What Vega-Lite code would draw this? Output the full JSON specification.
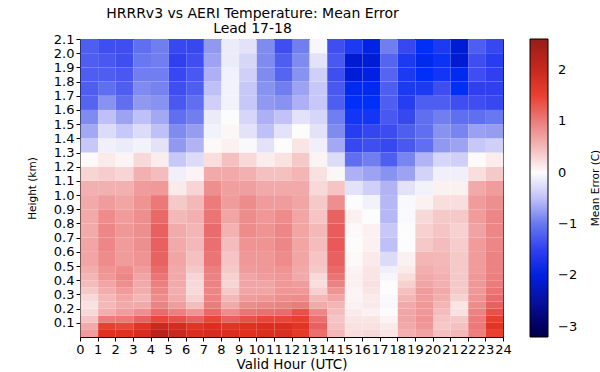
{
  "$schema": "https://vega.github.io/schema/vega-lite/v6.json",
  "width": 423,
  "height": 298,
  "autosize": {"type": "none"},
  "padding": {"left": 80, "top": 39, "right": 97, "bottom": 35},
  "background": "white",
  "title": {
    "text": ["HRRRv3 vs AERI Temperature: Mean Error", "Lead 17-18"],
    "font": "DejaVu Sans",
    "fontSize": 14,
    "fontWeight": "normal",
    "color": "#000000",
    "anchor": "middle",
    "dx": -39,
    "offset": -3,
    "lineHeight": 15
  },
  "datasets": {
    "levels": [
      {"z": 0, "top": 0.05}, {"z": 0.05, "top": 0.1}, {"z": 0.1, "top": 0.15}, {"z": 0.15, "top": 0.2},
      {"z": 0.2, "top": 0.25}, {"z": 0.25, "top": 0.3}, {"z": 0.3, "top": 0.35}, {"z": 0.35, "top": 0.4},
      {"z": 0.4, "top": 0.45}, {"z": 0.45, "top": 0.5}, {"z": 0.5, "top": 0.6}, {"z": 0.6, "top": 0.7},
      {"z": 0.7, "top": 0.8}, {"z": 0.8, "top": 0.9}, {"z": 0.9, "top": 1}, {"z": 1, "top": 1.1},
      {"z": 1.1, "top": 1.2}, {"z": 1.2, "top": 1.3}, {"z": 1.3, "top": 1.4}, {"z": 1.4, "top": 1.5},
      {"z": 1.5, "top": 1.6}, {"z": 1.6, "top": 1.7}, {"z": 1.7, "top": 1.8}, {"z": 1.8, "top": 1.9},
      {"z": 1.9, "top": 2}, {"z": 2, "top": 2.1}
    ]
  },
  "data": {
    "values": [
      {"hour":0,"z":0,"me":0.75},{"hour":0,"z":0.05,"me":0.63},{"hour":0,"z":0.1,"me":0.4},{"hour":0,"z":0.15,"me":0.23},{"hour":0,"z":0.2,"me":0.18},{"hour":0,"z":0.25,"me":0.23},{"hour":0,"z":0.3,"me":0.36},{"hour":0,"z":0.35,"me":0.47},{"hour":0,"z":0.4,"me":0.53},{"hour":0,"z":0.45,"me":0.6},{"hour":0,"z":0.5,"me":0.67},{"hour":0,"z":0.6,"me":0.67},{"hour":0,"z":0.7,"me":0.62},{"hour":0,"z":0.8,"me":0.63},{"hour":0,"z":0.9,"me":0.63},{"hour":0,"z":1,"me":0.57},{"hour":0,"z":1.1,"me":0.26},{"hour":0,"z":1.2,"me":0.02},{"hour":0,"z":1.3,"me":-0.43},{"hour":0,"z":1.4,"me":-0.65},{"hour":0,"z":1.5,"me":-0.85},{"hour":0,"z":1.6,"me":-1.15},{"hour":0,"z":1.7,"me":-1.2},{"hour":0,"z":1.8,"me":-1.2},{"hour":0,"z":1.9,"me":-1.2},{"hour":0,"z":2,"me":-1.2},
      {"hour":1,"z":0,"me":1.75},{"hour":1,"z":0.05,"me":1.5},{"hour":1,"z":0.1,"me":1.0},{"hour":1,"z":0.15,"me":0.6},{"hour":1,"z":0.2,"me":0.5},{"hour":1,"z":0.25,"me":0.5},{"hour":1,"z":0.3,"me":0.6},{"hour":1,"z":0.35,"me":0.67},{"hour":1,"z":0.4,"me":0.78},{"hour":1,"z":0.45,"me":0.82},{"hour":1,"z":0.5,"me":0.88},{"hour":1,"z":0.6,"me":0.92},{"hour":1,"z":0.7,"me":0.92},{"hour":1,"z":0.8,"me":0.88},{"hour":1,"z":0.9,"me":0.75},{"hour":1,"z":1,"me":0.57},{"hour":1,"z":1.1,"me":0.33},{"hour":1,"z":1.2,"me":0.12},{"hour":1,"z":1.3,"me":-0.1},{"hour":1,"z":1.4,"me":-0.25},{"hour":1,"z":1.5,"me":-0.5},{"hour":1,"z":1.6,"me":-0.8},{"hour":1,"z":1.7,"me":-1.07},{"hour":1,"z":1.8,"me":-1.2},{"hour":1,"z":1.9,"me":-1.25},{"hour":1,"z":2,"me":-1.35},
      {"hour":2,"z":0,"me":1.75},{"hour":2,"z":0.05,"me":1.45},{"hour":2,"z":0.1,"me":1.03},{"hour":2,"z":0.15,"me":0.75},{"hour":2,"z":0.2,"me":0.63},{"hour":2,"z":0.25,"me":0.67},{"hour":2,"z":0.3,"me":0.75},{"hour":2,"z":0.35,"me":0.85},{"hour":2,"z":0.4,"me":0.92},{"hour":2,"z":0.45,"me":0.88},{"hour":2,"z":0.5,"me":0.75},{"hour":2,"z":0.6,"me":0.75},{"hour":2,"z":0.7,"me":0.78},{"hour":2,"z":0.8,"me":0.75},{"hour":2,"z":0.9,"me":0.67},{"hour":2,"z":1,"me":0.57},{"hour":2,"z":1.1,"me":0.26},{"hour":2,"z":1.2,"me":0.05},{"hour":2,"z":1.3,"me":-0.13},{"hour":2,"z":1.4,"me":-0.43},{"hour":2,"z":1.5,"me":-0.68},{"hour":2,"z":1.6,"me":-1.07},{"hour":2,"z":1.7,"me":-1.2},{"hour":2,"z":1.8,"me":-1.25},{"hour":2,"z":1.9,"me":-1.35},{"hour":2,"z":2,"me":-1.35},
      {"hour":3,"z":0,"me":1.85},{"hour":3,"z":0.05,"me":1.68},{"hour":3,"z":0.1,"me":1.2},{"hour":3,"z":0.15,"me":0.85},{"hour":3,"z":0.2,"me":0.63},{"hour":3,"z":0.25,"me":0.53},{"hour":3,"z":0.3,"me":0.6},{"hour":3,"z":0.35,"me":0.63},{"hour":3,"z":0.4,"me":0.67},{"hour":3,"z":0.45,"me":0.75},{"hour":3,"z":0.5,"me":0.82},{"hour":3,"z":0.6,"me":0.85},{"hour":3,"z":0.7,"me":0.85},{"hour":3,"z":0.8,"me":0.85},{"hour":3,"z":0.9,"me":0.82},{"hour":3,"z":1,"me":0.75},{"hour":3,"z":1.1,"me":0.57},{"hour":3,"z":1.2,"me":0.23},{"hour":3,"z":1.3,"me":-0.08},{"hour":3,"z":1.4,"me":-0.25},{"hour":3,"z":1.5,"me":-0.5},{"hour":3,"z":1.6,"me":-0.75},{"hour":3,"z":1.7,"me":-0.85},{"hour":3,"z":1.8,"me":-0.95},{"hour":3,"z":1.9,"me":-1.0},{"hour":3,"z":2,"me":-1.07},
      {"hour":4,"z":0,"me":2.2},{"hour":4,"z":0.05,"me":2.0},{"hour":4,"z":0.1,"me":1.45},{"hour":4,"z":0.15,"me":1.13},{"hour":4,"z":0.2,"me":0.95},{"hour":4,"z":0.25,"me":0.88},{"hour":4,"z":0.3,"me":0.92},{"hour":4,"z":0.35,"me":0.98},{"hour":4,"z":0.4,"me":1.06},{"hour":4,"z":0.45,"me":1.13},{"hour":4,"z":0.5,"me":1.2},{"hour":4,"z":0.6,"me":1.22},{"hour":4,"z":0.7,"me":1.22},{"hour":4,"z":0.8,"me":1.16},{"hour":4,"z":0.9,"me":1.03},{"hour":4,"z":1,"me":0.77},{"hour":4,"z":1.1,"me":0.47},{"hour":4,"z":1.2,"me":0.1},{"hour":4,"z":1.3,"me":-0.2},{"hour":4,"z":1.4,"me":-0.5},{"hour":4,"z":1.5,"me":-0.65},{"hour":4,"z":1.6,"me":-0.8},{"hour":4,"z":1.7,"me":-0.92},{"hour":4,"z":1.8,"me":-0.95},{"hour":4,"z":1.9,"me":-0.95},{"hour":4,"z":2,"me":-0.95},
      {"hour":5,"z":0,"me":2.0},{"hour":5,"z":0.05,"me":1.88},{"hour":5,"z":0.1,"me":1.35},{"hour":5,"z":0.15,"me":0.98},{"hour":5,"z":0.2,"me":0.75},{"hour":5,"z":0.25,"me":0.63},{"hour":5,"z":0.3,"me":0.6},{"hour":5,"z":0.35,"me":0.63},{"hour":5,"z":0.4,"me":0.63},{"hour":5,"z":0.45,"me":0.63},{"hour":5,"z":0.5,"me":0.67},{"hour":5,"z":0.6,"me":0.63},{"hour":5,"z":0.7,"me":0.62},{"hour":5,"z":0.8,"me":0.5},{"hour":5,"z":0.9,"me":0.36},{"hour":5,"z":1,"me":0.12},{"hour":5,"z":1.1,"me":-0.1},{"hour":5,"z":1.2,"me":-0.43},{"hour":5,"z":1.3,"me":-0.75},{"hour":5,"z":1.4,"me":-0.85},{"hour":5,"z":1.5,"me":-1.07},{"hour":5,"z":1.6,"me":-1.25},{"hour":5,"z":1.7,"me":-1.35},{"hour":5,"z":1.8,"me":-1.42},{"hour":5,"z":1.9,"me":-1.5},{"hour":5,"z":2,"me":-1.42},
      {"hour":6,"z":0,"me":1.82},{"hour":6,"z":0.05,"me":1.68},{"hour":6,"z":0.1,"me":1.22},{"hour":6,"z":0.15,"me":0.82},{"hour":6,"z":0.2,"me":0.47},{"hour":6,"z":0.25,"me":0.3},{"hour":6,"z":0.3,"me":0.23},{"hour":6,"z":0.35,"me":0.23},{"hour":6,"z":0.4,"me":0.26},{"hour":6,"z":0.45,"me":0.36},{"hour":6,"z":0.5,"me":0.43},{"hour":6,"z":0.6,"me":0.5},{"hour":6,"z":0.7,"me":0.53},{"hour":6,"z":0.8,"me":0.57},{"hour":6,"z":0.9,"me":0.5},{"hour":6,"z":1,"me":0.26},{"hour":6,"z":1.1,"me":0.05},{"hour":6,"z":1.2,"me":-0.25},{"hour":6,"z":1.3,"me":-0.58},{"hour":6,"z":1.4,"me":-0.72},{"hour":6,"z":1.5,"me":-0.95},{"hour":6,"z":1.6,"me":-1.07},{"hour":6,"z":1.7,"me":-1.2},{"hour":6,"z":1.8,"me":-1.25},{"hour":6,"z":1.9,"me":-1.35},{"hour":6,"z":2,"me":-1.42},
      {"hour":7,"z":0,"me":1.88},{"hour":7,"z":0.05,"me":1.82},{"hour":7,"z":0.1,"me":1.45},{"hour":7,"z":0.15,"me":1.16},{"hour":7,"z":0.2,"me":1.0},{"hour":7,"z":0.25,"me":0.95},{"hour":7,"z":0.3,"me":0.92},{"hour":7,"z":0.35,"me":0.95},{"hour":7,"z":0.4,"me":0.95},{"hour":7,"z":0.45,"me":0.98},{"hour":7,"z":0.5,"me":1.06},{"hour":7,"z":0.6,"me":1.1},{"hour":7,"z":0.7,"me":1.13},{"hour":7,"z":0.8,"me":1.06},{"hour":7,"z":0.9,"me":1.0},{"hour":7,"z":1,"me":0.85},{"hour":7,"z":1.1,"me":0.63},{"hour":7,"z":1.2,"me":0.2},{"hour":7,"z":1.3,"me":0.02},{"hour":7,"z":1.4,"me":-0.08},{"hour":7,"z":1.5,"me":-0.13},{"hour":7,"z":1.6,"me":-0.37},{"hour":7,"z":1.7,"me":-0.5},{"hour":7,"z":1.8,"me":-0.6},{"hour":7,"z":1.9,"me":-0.68},{"hour":7,"z":2,"me":-0.75},
      {"hour":8,"z":0,"me":1.82},{"hour":8,"z":0.05,"me":1.68},{"hour":8,"z":0.1,"me":1.22},{"hour":8,"z":0.15,"me":0.88},{"hour":8,"z":0.2,"me":0.63},{"hour":8,"z":0.25,"me":0.5},{"hour":8,"z":0.3,"me":0.36},{"hour":8,"z":0.35,"me":0.26},{"hour":8,"z":0.4,"me":0.3},{"hour":8,"z":0.45,"me":0.36},{"hour":8,"z":0.5,"me":0.4},{"hour":8,"z":0.6,"me":0.47},{"hour":8,"z":0.7,"me":0.56},{"hour":8,"z":0.8,"me":0.67},{"hour":8,"z":0.9,"me":0.75},{"hour":8,"z":1,"me":0.72},{"hour":8,"z":1.1,"me":0.63},{"hour":8,"z":1.2,"me":0.43},{"hour":8,"z":1.3,"me":0.07},{"hour":8,"z":1.4,"me":0.03},{"hour":8,"z":1.5,"me":0.0},{"hour":8,"z":1.6,"me":-0.08},{"hour":8,"z":1.7,"me":-0.08},{"hour":8,"z":1.8,"me":-0.09},{"hour":8,"z":1.9,"me":-0.13},{"hour":8,"z":2,"me":-0.13},
      {"hour":9,"z":0,"me":1.75},{"hour":9,"z":0.05,"me":1.75},{"hour":9,"z":0.1,"me":1.35},{"hour":9,"z":0.15,"me":1.06},{"hour":9,"z":0.2,"me":0.88},{"hour":9,"z":0.25,"me":0.75},{"hour":9,"z":0.3,"me":0.67},{"hour":9,"z":0.35,"me":0.67},{"hour":9,"z":0.4,"me":0.67},{"hour":9,"z":0.45,"me":0.75},{"hour":9,"z":0.5,"me":0.78},{"hour":9,"z":0.6,"me":0.82},{"hour":9,"z":0.7,"me":0.88},{"hour":9,"z":0.8,"me":0.88},{"hour":9,"z":0.9,"me":0.88},{"hour":9,"z":1,"me":0.72},{"hour":9,"z":1.1,"me":0.57},{"hour":9,"z":1.2,"me":0.23},{"hour":9,"z":1.3,"me":-0.03},{"hour":9,"z":1.4,"me":-0.2},{"hour":9,"z":1.5,"me":-0.3},{"hour":9,"z":1.6,"me":-0.43},{"hour":9,"z":1.7,"me":-0.43},{"hour":9,"z":1.8,"me":-0.37},{"hour":9,"z":1.9,"me":-0.3},{"hour":9,"z":2,"me":-0.2},
      {"hour":10,"z":0,"me":1.82},{"hour":10,"z":0.05,"me":1.82},{"hour":10,"z":0.1,"me":1.45},{"hour":10,"z":0.15,"me":1.1},{"hour":10,"z":0.2,"me":0.92},{"hour":10,"z":0.25,"me":0.78},{"hour":10,"z":0.3,"me":0.67},{"hour":10,"z":0.35,"me":0.67},{"hour":10,"z":0.4,"me":0.75},{"hour":10,"z":0.45,"me":0.78},{"hour":10,"z":0.5,"me":0.78},{"hour":10,"z":0.6,"me":0.82},{"hour":10,"z":0.7,"me":0.82},{"hour":10,"z":0.8,"me":0.78},{"hour":10,"z":0.9,"me":0.75},{"hour":10,"z":1,"me":0.63},{"hour":10,"z":1.1,"me":0.43},{"hour":10,"z":1.2,"me":0.1},{"hour":10,"z":1.3,"me":-0.2},{"hour":10,"z":1.4,"me":-0.5},{"hour":10,"z":1.5,"me":-0.6},{"hour":10,"z":1.6,"me":-0.75},{"hour":10,"z":1.7,"me":-0.8},{"hour":10,"z":1.8,"me":-0.85},{"hour":10,"z":1.9,"me":-0.85},{"hour":10,"z":2,"me":-0.85},
      {"hour":11,"z":0,"me":1.82},{"hour":11,"z":0.05,"me":1.82},{"hour":11,"z":0.1,"me":1.45},{"hour":11,"z":0.15,"me":1.13},{"hour":11,"z":0.2,"me":0.95},{"hour":11,"z":0.25,"me":0.85},{"hour":11,"z":0.3,"me":0.78},{"hour":11,"z":0.35,"me":0.78},{"hour":11,"z":0.4,"me":0.78},{"hour":11,"z":0.45,"me":0.82},{"hour":11,"z":0.5,"me":0.88},{"hour":11,"z":0.6,"me":0.92},{"hour":11,"z":0.7,"me":0.92},{"hour":11,"z":0.8,"me":0.88},{"hour":11,"z":0.9,"me":0.75},{"hour":11,"z":1,"me":0.63},{"hour":11,"z":1.1,"me":0.43},{"hour":11,"z":1.2,"me":0.17},{"hour":11,"z":1.3,"me":0.0},{"hour":11,"z":1.4,"me":-0.2},{"hour":11,"z":1.5,"me":-0.48},{"hour":11,"z":1.6,"me":-0.8},{"hour":11,"z":1.7,"me":-0.95},{"hour":11,"z":1.8,"me":-1.15},{"hour":11,"z":1.9,"me":-1.2},{"hour":11,"z":2,"me":-1.35},
      {"hour":12,"z":0,"me":1.6},{"hour":12,"z":0.05,"me":1.68},{"hour":12,"z":0.1,"me":1.5},{"hour":12,"z":0.15,"me":1.35},{"hour":12,"z":0.2,"me":1.0},{"hour":12,"z":0.25,"me":0.88},{"hour":12,"z":0.3,"me":0.78},{"hour":12,"z":0.35,"me":0.75},{"hour":12,"z":0.4,"me":0.63},{"hour":12,"z":0.45,"me":0.63},{"hour":12,"z":0.5,"me":0.67},{"hour":12,"z":0.6,"me":0.67},{"hour":12,"z":0.7,"me":0.67},{"hour":12,"z":0.8,"me":0.67},{"hour":12,"z":0.9,"me":0.67},{"hour":12,"z":1,"me":0.63},{"hour":12,"z":1.1,"me":0.53},{"hour":12,"z":1.2,"me":0.36},{"hour":12,"z":1.3,"me":0.15},{"hour":12,"z":1.4,"me":0.0},{"hour":12,"z":1.5,"me":-0.2},{"hour":12,"z":1.6,"me":-0.6},{"hour":12,"z":1.7,"me":-0.68},{"hour":12,"z":1.8,"me":-0.8},{"hour":12,"z":1.9,"me":-0.85},{"hour":12,"z":2,"me":-0.95},
      {"hour":13,"z":0,"me":1.1},{"hour":13,"z":0.05,"me":1.22},{"hour":13,"z":0.1,"me":1.1},{"hour":13,"z":0.15,"me":0.92},{"hour":13,"z":0.2,"me":0.63},{"hour":13,"z":0.25,"me":0.5},{"hour":13,"z":0.3,"me":0.3},{"hour":13,"z":0.35,"me":0.2},{"hour":13,"z":0.4,"me":0.23},{"hour":13,"z":0.45,"me":0.36},{"hour":13,"z":0.5,"me":0.4},{"hour":13,"z":0.6,"me":0.47},{"hour":13,"z":0.7,"me":0.5},{"hour":13,"z":0.8,"me":0.4},{"hour":13,"z":0.9,"me":0.36},{"hour":13,"z":1,"me":0.23},{"hour":13,"z":1.1,"me":0.18},{"hour":13,"z":1.2,"me":0.05},{"hour":13,"z":1.3,"me":-0.1},{"hour":13,"z":1.4,"me":-0.2},{"hour":13,"z":1.5,"me":-0.3},{"hour":13,"z":1.6,"me":-0.43},{"hour":13,"z":1.7,"me":-0.43},{"hour":13,"z":1.8,"me":-0.37},{"hour":13,"z":1.9,"me":-0.2},{"hour":13,"z":2,"me":-0.05},
      {"hour":14,"z":0,"me":0.5},{"hour":14,"z":0.05,"me":0.43},{"hour":14,"z":0.1,"me":0.4},{"hour":14,"z":0.15,"me":0.47},{"hour":14,"z":0.2,"me":0.53},{"hour":14,"z":0.25,"me":0.67},{"hour":14,"z":0.3,"me":0.82},{"hour":14,"z":0.35,"me":0.95},{"hour":14,"z":0.4,"me":1.06},{"hour":14,"z":0.45,"me":1.16},{"hour":14,"z":0.5,"me":1.22},{"hour":14,"z":0.6,"me":1.28},{"hour":14,"z":0.7,"me":1.25},{"hour":14,"z":0.8,"me":1.2},{"hour":14,"z":0.9,"me":0.85},{"hour":14,"z":1,"me":0.4},{"hour":14,"z":1.1,"me":0.03},{"hour":14,"z":1.2,"me":-0.25},{"hour":14,"z":1.3,"me":-0.65},{"hour":14,"z":1.4,"me":-0.85},{"hour":14,"z":1.5,"me":-0.95},{"hour":14,"z":1.6,"me":-1.2},{"hour":14,"z":1.7,"me":-1.25},{"hour":14,"z":1.8,"me":-1.35},{"hour":14,"z":1.9,"me":-1.25},{"hour":14,"z":2,"me":-1.35},
      {"hour":15,"z":0,"me":0.2},{"hour":15,"z":0.05,"me":0.18},{"hour":15,"z":0.1,"me":0.15},{"hour":15,"z":0.15,"me":0.12},{"hour":15,"z":0.2,"me":0.07},{"hour":15,"z":0.25,"me":0.05},{"hour":15,"z":0.3,"me":0.05},{"hour":15,"z":0.35,"me":0.07},{"hour":15,"z":0.4,"me":0.07},{"hour":15,"z":0.45,"me":0.05},{"hour":15,"z":0.5,"me":0.02},{"hour":15,"z":0.6,"me":0.0},{"hour":15,"z":0.7,"me":0.02},{"hour":15,"z":0.8,"me":0.07},{"hour":15,"z":0.9,"me":0.0},{"hour":15,"z":1,"me":-0.2},{"hour":15,"z":1.1,"me":-0.6},{"hour":15,"z":1.2,"me":-1.07},{"hour":15,"z":1.3,"me":-1.42},{"hour":15,"z":1.4,"me":-1.55},{"hour":15,"z":1.5,"me":-1.65},{"hour":15,"z":1.6,"me":-1.75},{"hour":15,"z":1.7,"me":-1.85},{"hour":15,"z":1.8,"me":-2.1},{"hour":15,"z":1.9,"me":-2.15},{"hour":15,"z":2,"me":-1.6},
      {"hour":16,"z":0,"me":0.23},{"hour":16,"z":0.05,"me":0.18},{"hour":16,"z":0.1,"me":0.15},{"hour":16,"z":0.15,"me":0.07},{"hour":16,"z":0.2,"me":0.12},{"hour":16,"z":0.25,"me":0.12},{"hour":16,"z":0.3,"me":0.15},{"hour":16,"z":0.35,"me":0.18},{"hour":16,"z":0.4,"me":0.15},{"hour":16,"z":0.45,"me":0.15},{"hour":16,"z":0.5,"me":0.12},{"hour":16,"z":0.6,"me":0.07},{"hour":16,"z":0.7,"me":0.07},{"hour":16,"z":0.8,"me":0.0},{"hour":16,"z":0.9,"me":-0.08},{"hour":16,"z":1,"me":-0.37},{"hour":16,"z":1.1,"me":-0.68},{"hour":16,"z":1.2,"me":-0.95},{"hour":16,"z":1.3,"me":-1.35},{"hour":16,"z":1.4,"me":-1.45},{"hour":16,"z":1.5,"me":-1.65},{"hour":16,"z":1.6,"me":-1.75},{"hour":16,"z":1.7,"me":-1.85},{"hour":16,"z":1.8,"me":-1.98},{"hour":16,"z":1.9,"me":-2.1},{"hour":16,"z":2,"me":-1.95},
      {"hour":17,"z":0,"me":0.15},{"hour":17,"z":0.05,"me":0.12},{"hour":17,"z":0.1,"me":0.05},{"hour":17,"z":0.15,"me":0.0},{"hour":17,"z":0.2,"me":-0.03},{"hour":17,"z":0.25,"me":-0.03},{"hour":17,"z":0.3,"me":0.0},{"hour":17,"z":0.35,"me":0.0},{"hour":17,"z":0.4,"me":-0.05},{"hour":17,"z":0.45,"me":-0.1},{"hour":17,"z":0.5,"me":-0.25},{"hour":17,"z":0.6,"me":-0.5},{"hour":17,"z":0.7,"me":-0.43},{"hour":17,"z":0.8,"me":-0.55},{"hour":17,"z":0.9,"me":-0.55},{"hour":17,"z":1,"me":-0.58},{"hour":17,"z":1.1,"me":-0.8},{"hour":17,"z":1.2,"me":-1.2},{"hour":17,"z":1.3,"me":-1.42},{"hour":17,"z":1.4,"me":-1.38},{"hour":17,"z":1.5,"me":-1.25},{"hour":17,"z":1.6,"me":-1.2},{"hour":17,"z":1.7,"me":-1.2},{"hour":17,"z":1.8,"me":-1.15},{"hour":17,"z":1.9,"me":-1.15},{"hour":17,"z":2,"me":-0.95},
      {"hour":18,"z":0,"me":0.57},{"hour":18,"z":0.05,"me":0.63},{"hour":18,"z":0.1,"me":0.67},{"hour":18,"z":0.15,"me":0.67},{"hour":18,"z":0.2,"me":0.63},{"hour":18,"z":0.25,"me":0.53},{"hour":18,"z":0.3,"me":0.43},{"hour":18,"z":0.35,"me":0.3},{"hour":18,"z":0.4,"me":0.2},{"hour":18,"z":0.45,"me":0.12},{"hour":18,"z":0.5,"me":0.07},{"hour":18,"z":0.6,"me":0.0},{"hour":18,"z":0.7,"me":0.0},{"hour":18,"z":0.8,"me":-0.03},{"hour":18,"z":0.9,"me":-0.03},{"hour":18,"z":1,"me":-0.2},{"hour":18,"z":1.1,"me":-0.68},{"hour":18,"z":1.2,"me":-0.9},{"hour":18,"z":1.3,"me":-1.25},{"hour":18,"z":1.4,"me":-1.2},{"hour":18,"z":1.5,"me":-1.42},{"hour":18,"z":1.6,"me":-1.55},{"hour":18,"z":1.7,"me":-1.6},{"hour":18,"z":1.8,"me":-1.6},{"hour":18,"z":1.9,"me":-1.6},{"hour":18,"z":2,"me":-1.42},
      {"hour":19,"z":0,"me":0.7},{"hour":19,"z":0.05,"me":0.78},{"hour":19,"z":0.1,"me":0.82},{"hour":19,"z":0.15,"me":0.78},{"hour":19,"z":0.2,"me":0.78},{"hour":19,"z":0.25,"me":0.75},{"hour":19,"z":0.3,"me":0.75},{"hour":19,"z":0.35,"me":0.67},{"hour":19,"z":0.4,"me":0.63},{"hour":19,"z":0.45,"me":0.6},{"hour":19,"z":0.5,"me":0.53},{"hour":19,"z":0.6,"me":0.36},{"hour":19,"z":0.7,"me":0.3},{"hour":19,"z":0.8,"me":0.23},{"hour":19,"z":0.9,"me":0.07},{"hour":19,"z":1,"me":-0.08},{"hour":19,"z":1.1,"me":-0.33},{"hour":19,"z":1.2,"me":-0.58},{"hour":19,"z":1.3,"me":-1.07},{"hour":19,"z":1.4,"me":-1.07},{"hour":19,"z":1.5,"me":-1.07},{"hour":19,"z":1.6,"me":-1.2},{"hour":19,"z":1.7,"me":-1.6},{"hour":19,"z":1.8,"me":-1.75},{"hour":19,"z":1.9,"me":-1.85},{"hour":19,"z":2,"me":-1.75},
      {"hour":20,"z":0,"me":0.43},{"hour":20,"z":0.05,"me":0.36},{"hour":20,"z":0.1,"me":0.4},{"hour":20,"z":0.15,"me":0.47},{"hour":20,"z":0.2,"me":0.53},{"hour":20,"z":0.25,"me":0.6},{"hour":20,"z":0.3,"me":0.63},{"hour":20,"z":0.35,"me":0.57},{"hour":20,"z":0.4,"me":0.57},{"hour":20,"z":0.45,"me":0.53},{"hour":20,"z":0.5,"me":0.5},{"hour":20,"z":0.6,"me":0.47},{"hour":20,"z":0.7,"me":0.4},{"hour":20,"z":0.8,"me":0.36},{"hour":20,"z":0.9,"me":0.2},{"hour":20,"z":1,"me":0.07},{"hour":20,"z":1.1,"me":-0.1},{"hour":20,"z":1.2,"me":-0.3},{"hour":20,"z":1.3,"me":-0.75},{"hour":20,"z":1.4,"me":-0.8},{"hour":20,"z":1.5,"me":-0.95},{"hour":20,"z":1.6,"me":-1.2},{"hour":20,"z":1.7,"me":-1.35},{"hour":20,"z":1.8,"me":-1.65},{"hour":20,"z":1.9,"me":-1.7},{"hour":20,"z":2,"me":-1.6},
      {"hour":21,"z":0,"me":0.5},{"hour":21,"z":0.05,"me":0.43},{"hour":21,"z":0.1,"me":0.36},{"hour":21,"z":0.15,"me":0.18},{"hour":21,"z":0.2,"me":0.15},{"hour":21,"z":0.25,"me":0.3},{"hour":21,"z":0.3,"me":0.36},{"hour":21,"z":0.35,"me":0.36},{"hour":21,"z":0.4,"me":0.36},{"hour":21,"z":0.45,"me":0.36},{"hour":21,"z":0.5,"me":0.36},{"hour":21,"z":0.6,"me":0.33},{"hour":21,"z":0.7,"me":0.3},{"hour":21,"z":0.8,"me":0.36},{"hour":21,"z":0.9,"me":0.2},{"hour":21,"z":1,"me":0.07},{"hour":21,"z":1.1,"me":-0.1},{"hour":21,"z":1.2,"me":-0.37},{"hour":21,"z":1.3,"me":-0.68},{"hour":21,"z":1.4,"me":-0.9},{"hour":21,"z":1.5,"me":-1.07},{"hour":21,"z":1.6,"me":-1.35},{"hour":21,"z":1.7,"me":-1.75},{"hour":21,"z":1.8,"me":-1.85},{"hour":21,"z":1.9,"me":-2.15},{"hour":21,"z":2,"me":-2.1},
      {"hour":22,"z":0,"me":0.98},{"hour":22,"z":0.05,"me":1.03},{"hour":22,"z":0.1,"me":1.0},{"hour":22,"z":0.15,"me":0.95},{"hour":22,"z":0.2,"me":0.88},{"hour":22,"z":0.25,"me":0.82},{"hour":22,"z":0.3,"me":0.78},{"hour":22,"z":0.35,"me":0.78},{"hour":22,"z":0.4,"me":0.78},{"hour":22,"z":0.45,"me":0.75},{"hour":22,"z":0.5,"me":0.75},{"hour":22,"z":0.6,"me":0.75},{"hour":22,"z":0.7,"me":0.7},{"hour":22,"z":0.8,"me":0.75},{"hour":22,"z":0.9,"me":0.75},{"hour":22,"z":1,"me":0.63},{"hour":22,"z":1.1,"me":0.2},{"hour":22,"z":1.2,"me":0.01},{"hour":22,"z":1.3,"me":-0.43},{"hour":22,"z":1.4,"me":-0.7},{"hour":22,"z":1.5,"me":-1.07},{"hour":22,"z":1.6,"me":-1.35},{"hour":22,"z":1.7,"me":-1.5},{"hour":22,"z":1.8,"me":-1.35},{"hour":22,"z":1.9,"me":-1.35},{"hour":22,"z":2,"me":-1.2},
      {"hour":23,"z":0,"me":1.5},{"hour":23,"z":0.05,"me":1.68},{"hour":23,"z":0.1,"me":1.5},{"hour":23,"z":0.15,"me":1.35},{"hour":23,"z":0.2,"me":1.22},{"hour":23,"z":0.25,"me":1.13},{"hour":23,"z":0.3,"me":1.06},{"hour":23,"z":0.35,"me":1.0},{"hour":23,"z":0.4,"me":0.98},{"hour":23,"z":0.45,"me":0.95},{"hour":23,"z":0.5,"me":0.95},{"hour":23,"z":0.6,"me":0.92},{"hour":23,"z":0.7,"me":0.92},{"hour":23,"z":0.8,"me":0.92},{"hour":23,"z":0.9,"me":0.85},{"hour":23,"z":1,"me":0.75},{"hour":23,"z":1.1,"me":0.36},{"hour":23,"z":1.2,"me":0.1},{"hour":23,"z":1.3,"me":-0.37},{"hour":23,"z":1.4,"me":-0.72},{"hour":23,"z":1.5,"me":-1.0},{"hour":23,"z":1.6,"me":-1.42},{"hour":23,"z":1.7,"me":-1.5},{"hour":23,"z":1.8,"me":-1.5},{"hour":23,"z":1.9,"me":-1.55},{"hour":23,"z":2,"me":-1.42}
    ]
  },
  "transform": [
    {"lookup": "z", "from": {"data": {"name": "levels"}, "key": "z", "fields": ["top"]}}
  ],
  "mark": {"type": "rect", "binSpacing": 0},
  "encoding": {
    "x": {
      "field": "hour",
      "type": "quantitative",
      "bin": {"step": 1, "extent": [0, 24]},
      "scale": {"domain": [0, 24], "nice": false},
      "axis": {
        "title": "Valid Hour (UTC)",
        "values": [0,1,2,3,4,5,6,7,8,9,10,11,12,13,14,15,16,17,18,19,20,21,22,23,24],
        "format": "d",
        "labelOverlap": false,
        "labelFlush": false,
        "labelPadding": 2,
        "titlePadding": 1,
        "titleFontSize": 13.5
      }
    },
    "y": {
      "field": "z",
      "type": "quantitative",
      "scale": {"domain": [0, 2.1], "nice": false, "zero": false},
      "axis": {
        "title": "Height (km)",
        "values": [0.1,0.2,0.3,0.4,0.5,0.6,0.7,0.8,0.9,1.0,1.1,1.2,1.3,1.4,1.5,1.6,1.7,1.8,1.9,2.0,2.1],
        "format": ".1f",
        "labelOverlap": false,
        "labelFlush": false,
        "labelPadding": 2,
        "titlePadding": 16,
        "titleFontSize": 10.5
      }
    },
    "y2": {"field": "top"},
    "color": {
      "field": "me",
      "type": "quantitative",
      "scale": {
        "domain": [-3.2,-3,-2.5,-2.25,-2,-1.75,-1.5,-1.25,-1,-0.75,-0.5,-0.25,0,0.25,0.5,0.75,1,1.25,1.5,1.75,2,2.6],
        "range": ["#000048","#000060","#0810a0","#0018c8","#0020e0","#0030f8","#3040f0","#4858f0","#6878f0","#9098f0","#c0c0f8","#dcdcf8","#fdfcfc","#f8d6d6","#f4b8b8","#f09c9c","#ec7c7c","#e85c5c","#e84030","#e03020","#c82820","#981c18"],
        "interpolate": "rgb"
      },
      "legend": {
        "orient": "right",
        "offset": 27,
        "padding": 0,
        "direction": "vertical",
        "gradientLength": 298,
        "gradientThickness": 18,
        "gradientStrokeColor": "#000000",
        "gradientStrokeWidth": 1,
        "values": [-3,-2,-1,0,1,2],
        "format": "d",
        "labelFont": "DejaVu Sans",
        "labelFontSize": 13,
        "labelColor": "#000000",
        "labelOffset": 10,
        "title": "Mean Error (C)",
        "titleOrient": "right",
        "titleFont": "DejaVu Sans",
        "titleFontSize": 10.5,
        "titleFontWeight": "normal",
        "titleColor": "#000000",
        "titlePadding": 24,
        "encoding": {
          "title": {"angle": {"value": -90}}
        }
      }
    }
  },
  "config": {
    "view": {"stroke": "#000000", "strokeWidth": 1},
    "axis": {
      "domain": false,
      "grid": false,
      "tickColor": "#000000",
      "tickSize": 4,
      "labelFont": "DejaVu Sans",
      "labelFontSize": 13,
      "labelColor": "#000000",
      "titleFont": "DejaVu Sans",
      "titleFontWeight": "normal",
      "titleColor": "#000000"
    }
  }
}
